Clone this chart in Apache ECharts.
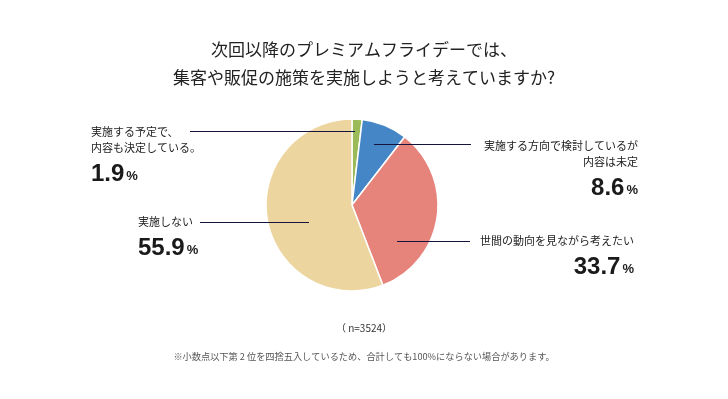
<!DOCTYPE html>
<html>
<head>
<meta charset="utf-8">
<script src="https://cdn.jsdelivr.net/npm/echarts@6/dist/echarts.min.js"></script>
<style>
	html, body { margin: 0; padding: 0; background: #fff; }
	#main { width: 728px; height: 399px; }
</style>
</head>
<body>
<div id="main"></div>
<script>
const answerNames = [
	'実施する予定で、\n内容も決定している。',
	'実施する方向で検討しているが\n内容は未定',
	'世間の動向を見ながら考えたい',
	'実施しない'
];
const answerShares = [1.9, 8.6, 33.7, 55.9];
const sliceColors = ['#9bbb59', '#4486c6', '#e6837b', '#edd5a0'];

// label block placement (top-left / top-right anchor) and leader lines
const labelSpots = [
	{ x: 91, y: 124, align: 'left', line: [[190, 131.5], [355, 131.5]] },
	{ x: 638, y: 138, align: 'right', line: [[374, 144.5], [471, 144.5]] },
	{ x: 634, y: 233, align: 'right', line: [[397, 241.5], [470, 241.5]] },
	{ x: 138, y: 214, align: 'left', line: [[200, 222.5], [309, 222.5]] }
];

const jpFont = '"Noto Sans CJK JP", "Noto Sans", sans-serif';
const numFont = '"Liberation Sans", Arial, sans-serif';

let myChart = echarts.init(document.getElementById('main'));

let pieData = answerNames.map((name, i) => ({
	name: name,
	value: answerShares[i],
	itemStyle: { color: sliceColors[i] }
}));

// leader lines drawn above the slices
let leaderLines = labelSpots.map(spot => ({
	type: 'polyline',
	z: 100,
	silent: true,
	shape: { points: spot.line },
	style: { stroke: '#14143c', lineWidth: 1, fill: null }
}));

let option = {
	animation: false,
	title: [{
		text: '次回以降のプレミアムフライデーでは、\n集客や販促の施策を実施しようと考えていますか?',
		left: 'center',
		top: 31,
		textStyle: {
			fontFamily: jpFont,
			fontSize: 17,
			fontWeight: 'normal',
			color: '#222',
			lineHeight: 28
		}
	}, {
		text: '（ n=3524）',
		left: 'center',
		top: 318,
		textStyle: {
			fontFamily: jpFont,
			fontSize: 10,
			fontWeight: 'normal',
			color: '#333'
		}
	}, {
		text: '※小数点以下第 2 位を四捨五入しているため、合計しても100%にならない場合があります。',
		left: 'center',
		top: 347,
		textStyle: {
			fontFamily: jpFont,
			fontSize: 9.2,
			fontWeight: 'normal',
			color: '#555'
		}
	}],
	graphic: leaderLines,
	series: [{
		type: 'pie',
		center: [352, 205],
		radius: 86,
		startAngle: 90,
		clockwise: true,
		data: pieData,
		itemStyle: {
			borderColor: '#fff',
			borderWidth: 1.5
		},
		emphasis: { disabled: true },
		label: {
			show: true,
			position: 'outside',
			formatter: p => '{name|' + p.name.split('\n').join('}\n{name|') + '}\n{val|' + p.value.toFixed(1) + '}{pct|%}',
			rich: {
				name: {
					fontFamily: jpFont,
					fontSize: 11,
					color: '#222',
					lineHeight: 16
				},
				val: {
					fontFamily: numFont,
					fontSize: 24,
					fontWeight: 'bold',
					color: '#1a1a1a',
					lineHeight: 30,
					verticalAlign: 'bottom'
				},
				pct: {
					fontFamily: numFont,
					fontSize: 13,
					fontWeight: 'bold',
					color: '#1a1a1a',
					lineHeight: 30,
					padding: [0, 0, 3, 2],
					verticalAlign: 'bottom'
				}
			}
		},
		labelLine: { show: false },
		labelLayout: function(params) {
			let spot = labelSpots[params.dataIndex];
			return {
				x: spot.x,
				y: spot.y,
				align: spot.align,
				verticalAlign: 'top'
			};
		}
	}]
};

myChart.setOption(option);
</script>
</body>
</html>
